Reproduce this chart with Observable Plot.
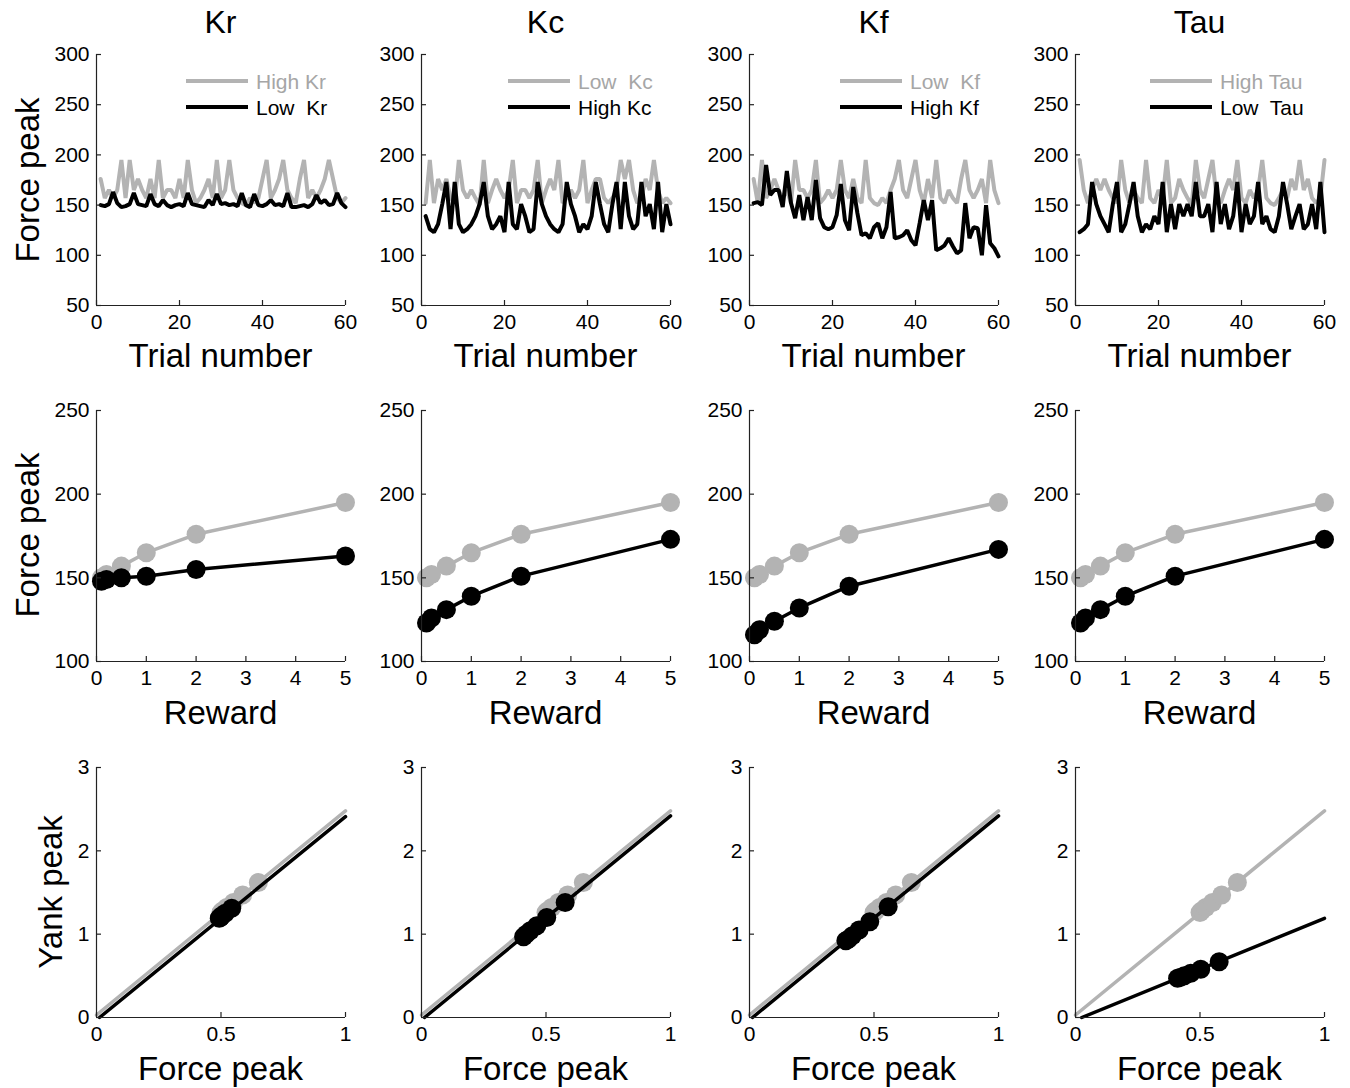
<!DOCTYPE html>
<html><head><meta charset="utf-8">
<script src="https://cdn.jsdelivr.net/npm/d3@7"></script>
<script src="https://cdn.jsdelivr.net/npm/@observablehq/plot@0.6"></script>
<style>
body{margin:0;background:#fff;}
#fig{position:relative;width:1350px;height:1088px;font-family:"Liberation Sans",Arial,sans-serif;color:#000;overflow:hidden;background:#fff;}
.lab{position:absolute;white-space:pre;line-height:1;transform:translate(-50%,-50%);}
.rot{transform:translate(-50%,-50%) rotate(-90deg);}
.leg{position:absolute;white-space:pre;font-size:21px;line-height:1;transform:translateY(-50%);}
.legline{position:absolute;height:4px;transform:translateY(-50%);}
#fig svg{position:absolute;}
</style></head><body><div id="fig"></div><script>
// ---------------- DATA ----------------
const params = ["Kr", "Kc", "Kf", "Tau"];
const grayLegend = ["High Kr", "Low  Kc", "Low  Kf", "High Tau"];
const blackLegend = ["Low  Kr", "High Kc", "High Kf", "Low  Tau"];

const trials = d3.range(1, 61);

// Row 1: force peak per trial
const krGray = [176,157,165,157,165,195,157,195,165,176,165,157,176,157,195,157,165,165,157,176,157,195,165,152,157,165,176,157,195,157,165,195,165,157,152,150,157,152,157,176,195,157,165,176,195,165,157,152,176,195,157,165,157,165,176,195,176,157,152,157];
const krBlack = [150,149,151,163,152,148,149,151,162,151,150,149,161,151,149,155,150,148,150,151,149,162,151,150,149,148,155,150,161,151,152,150,151,149,162,150,148,161,150,149,151,155,150,151,149,162,148,148,149,150,148,151,160,152,155,150,151,162,152,148];
const kcGray = [152,195,152,176,165,176,157,152,195,165,157,165,157,150,195,152,165,176,165,157,165,195,152,165,165,157,165,195,152,165,176,165,195,152,157,165,157,165,195,152,165,176,176,157,152,157,165,195,176,195,165,152,157,176,165,195,165,152,157,152];
const kcBlack = [139,126,123,131,151,173,126,173,131,123,126,131,139,151,173,139,126,131,139,123,173,131,126,151,139,123,126,173,151,139,131,126,123,131,173,151,139,123,131,126,139,173,151,131,123,151,173,126,173,139,126,131,173,139,151,126,173,123,151,131];
const kfGray = [176,152,195,157,165,176,165,157,165,152,195,165,165,157,165,195,152,157,165,157,165,195,165,157,176,157,152,195,157,152,150,157,152,165,176,195,165,157,176,195,165,152,176,157,195,157,152,165,157,152,176,195,165,157,165,176,152,195,165,152];
const kfBlack = [152,153,150,190,160,165,165,148,184,152,137,160,135,158,135,175,137,128,126,128,140,171,135,125,168,142,120,122,117,128,132,117,128,163,117,118,120,125,115,110,132,155,135,155,105,107,110,117,109,102,105,152,117,128,127,100,150,112,107,99];
const tauGray = [195,165,152,165,176,165,176,165,157,152,195,165,152,165,157,152,195,157,152,165,157,195,152,157,176,165,157,150,195,165,157,176,195,157,152,165,176,165,195,157,152,165,157,165,195,157,152,150,157,165,157,176,165,195,165,176,157,152,157,195];
const tauBlack = [123,126,131,173,151,139,131,123,151,173,123,131,151,173,139,123,131,126,139,131,173,123,151,126,151,139,151,139,173,139,139,151,123,173,131,151,126,139,173,123,151,131,139,173,131,139,126,123,139,173,151,126,139,151,126,131,151,126,173,123];

// Row 2: mean force peak vs reward
const rewards = [0.1, 0.2, 0.5, 1, 2, 5];
const rewardGray = [150, 152, 157, 165, 176, 195];
const rewardBlackKr = [148, 149, 150, 151, 155, 163];
const rewardBlackKc = [123, 126, 131, 139, 151, 173];
const rewardBlackKf = [116, 119, 124, 132, 145, 167];
const rewardBlackTau = [123, 126, 131, 139, 151, 173];

// Row 3: yank peak vs (normalised) force peak
const forceGray = [0.500, 0.507, 0.523, 0.550, 0.587, 0.650];
const yankGray = [1.26, 1.28, 1.32, 1.38, 1.47, 1.62];
const forceBlackKr = [0.493, 0.497, 0.500, 0.503, 0.517, 0.543];
const yankBlackKr = [1.19, 1.20, 1.21, 1.22, 1.25, 1.31];
const forceBlackKc = [0.410, 0.420, 0.437, 0.463, 0.503, 0.577];
const yankBlackKc = [0.97, 1.00, 1.04, 1.10, 1.20, 1.38];
const forceBlackKf = [0.387, 0.397, 0.413, 0.440, 0.483, 0.557];
const yankBlackKf = [0.92, 0.94, 0.98, 1.05, 1.15, 1.33];
const forceBlackTau = [0.410, 0.420, 0.437, 0.463, 0.503, 0.577];
const yankBlackTau = [0.47, 0.48, 0.50, 0.53, 0.58, 0.67];
// fitted lines (end points)
const fitGrayX = [0, 1], fitGrayY = [0.03, 2.48];
const fitBlackX = [[0.012, 1], [0.012, 1], [0.012, 1], [0.025, 1]];
const fitBlackY = [[0, 2.41], [0, 2.42], [0, 2.42], [0, 1.19]];

// Ticks
const xTicks = [[0, 20, 40, 60], [0, 1, 2, 3, 4, 5], [0, 0.5, 1]];
const yTicks = [[50, 100, 150, 200, 250, 300], [100, 150, 200, 250], [0, 1, 2, 3]];
const xDomains = [[0, 60], [0, 5], [0, 1]];
const yDomains = [[50, 300], [100, 250], [0, 3]];
const xLabels = ["Trial number", "Reward", "Force peak"];
const yLabels = ["Force peak", "Force peak", "Yank peak"];

// ---------------- LAYOUT ----------------
const GRAY = "#b3b3b3", BLACK = "#000", AXIS = "#222";
const colLeft = [96, 421, 749, 1075], plotW = 249;
const rowTop = [54, 410, 767], plotH = [251, 251, 250];
const mL = 70, mR = 15, mT = 12, mB = 40;
const legTextX = [256, 578, 910, 1220];
const fig = document.getElementById("fig");
const fmt = d => `${d}`;

const seriesTop = [[krGray, krBlack], [kcGray, kcBlack], [kfGray, kfBlack], [tauGray, tauBlack]];
const seriesMid = [rewardBlackKr, rewardBlackKc, rewardBlackKf, rewardBlackTau];
const seriesBot = [[forceBlackKr, yankBlackKr], [forceBlackKc, yankBlackKc], [forceBlackKf, yankBlackKf], [forceBlackTau, yankBlackTau]];

function pts(xs, ys) { return xs.map((x, i) => ({x, y: ys[i]})); }

function addLabel(text, x, y, size, rot) {
  const d = document.createElement("div");
  d.className = "lab" + (rot ? " rot" : "");
  d.textContent = text;
  d.style.left = x + "px"; d.style.top = y + "px"; d.style.fontSize = size + "px";
  fig.appendChild(d);
}

function panel(r, c, dataMarks) {
  const H = plotH[r];
  const chart = Plot.plot({
    width: plotW + mL + mR, height: H + mT + mB,
    marginLeft: mL, marginRight: mR, marginTop: mT, marginBottom: mB,
    x: {domain: xDomains[r]}, y: {domain: yDomains[r]},
    style: {fontFamily: "'Liberation Sans', Arial, sans-serif", fontSize: "20px", color: "#000", background: "transparent", overflow: "visible"},
    marks: [
      ...dataMarks,
      Plot.ruleX([xDomains[r][0]], {stroke: AXIS, strokeWidth: 1.2}),
      Plot.ruleY([yDomains[r][0]], {stroke: AXIS, strokeWidth: 1.2}),
      Plot.ruleX(xTicks[r], {x: d => d, insetTop: H - 5, stroke: AXIS, strokeWidth: 1.2}),
      Plot.ruleY(yTicks[r], {y: d => d, insetRight: plotW - 5, stroke: AXIS, strokeWidth: 1.2}),
      Plot.axisX(xTicks[r], {tickSize: 0, tickPadding: 9, label: null, fontSize: 21, tickFormat: fmt}),
      Plot.axisY(yTicks[r], {tickSize: 0, tickPadding: 7, label: null, fontSize: 21, tickFormat: fmt})
    ]
  });
  chart.style.left = (colLeft[c] - mL) + "px";
  chart.style.top = (rowTop[r] - mT) + "px";
  fig.appendChild(chart);
}

params.forEach((p, c) => {
  // Row 1
  const [g, b] = seriesTop[c];
  panel(0, c, [
    Plot.line(pts(trials, g), {x: "x", y: "y", stroke: GRAY, strokeWidth: 4, strokeLinejoin: "miter"}),
    Plot.line(pts(trials, b), {x: "x", y: "y", stroke: BLACK, strokeWidth: 4, strokeLinejoin: "miter"})
  ]);
  // Row 2
  const gm = pts(rewards, rewardGray), bm = pts(rewards, seriesMid[c]);
  panel(1, c, [
    Plot.line(gm, {x: "x", y: "y", stroke: GRAY, strokeWidth: 3.5}),
    Plot.dot(gm, {x: "x", y: "y", r: 9.5, fill: GRAY}),
    Plot.line(bm, {x: "x", y: "y", stroke: BLACK, strokeWidth: 3.5}),
    Plot.dot(bm, {x: "x", y: "y", r: 9.5, fill: BLACK})
  ]);
  // Row 3
  const gb = pts(forceGray, yankGray), bb = pts(seriesBot[c][0], seriesBot[c][1]);
  panel(2, c, [
    Plot.line(pts(fitGrayX, fitGrayY), {x: "x", y: "y", stroke: GRAY, strokeWidth: 3.5}),
    Plot.dot(gb, {x: "x", y: "y", r: 9.5, fill: GRAY}),
    Plot.line(pts(fitBlackX[c], fitBlackY[c]), {x: "x", y: "y", stroke: BLACK, strokeWidth: 3.5}),
    Plot.dot(bb, {x: "x", y: "y", r: 9.5, fill: BLACK})
  ]);

  const cx = colLeft[c] + plotW / 2;
  addLabel(p, cx, 22, 32);
  addLabel(xLabels[0], cx, 355, 33);
  addLabel(xLabels[1], cx, 712, 33);
  addLabel(xLabels[2], cx, 1068, 33);

  // legend
  [[grayLegend[c], GRAY, 81], [blackLegend[c], BLACK, 107]].forEach(([txt, col, y]) => {
    const ln = document.createElement("div");
    ln.className = "legline";
    ln.style.left = (legTextX[c] - 70) + "px"; ln.style.width = "62px";
    ln.style.top = y + "px"; ln.style.background = col;
    fig.appendChild(ln);
    const t = document.createElement("div");
    t.className = "leg"; t.textContent = txt; t.style.color = col === GRAY ? "#a6a6a6" : "#000";
    t.style.left = legTextX[c] + "px"; t.style.top = y + "px";
    fig.appendChild(t);
  });
});
addLabel(yLabels[0], 27, 180, 33, true);
addLabel(yLabels[1], 27, 535, 33, true);
addLabel(yLabels[2], 50, 892, 33, true);
</script></body></html>
